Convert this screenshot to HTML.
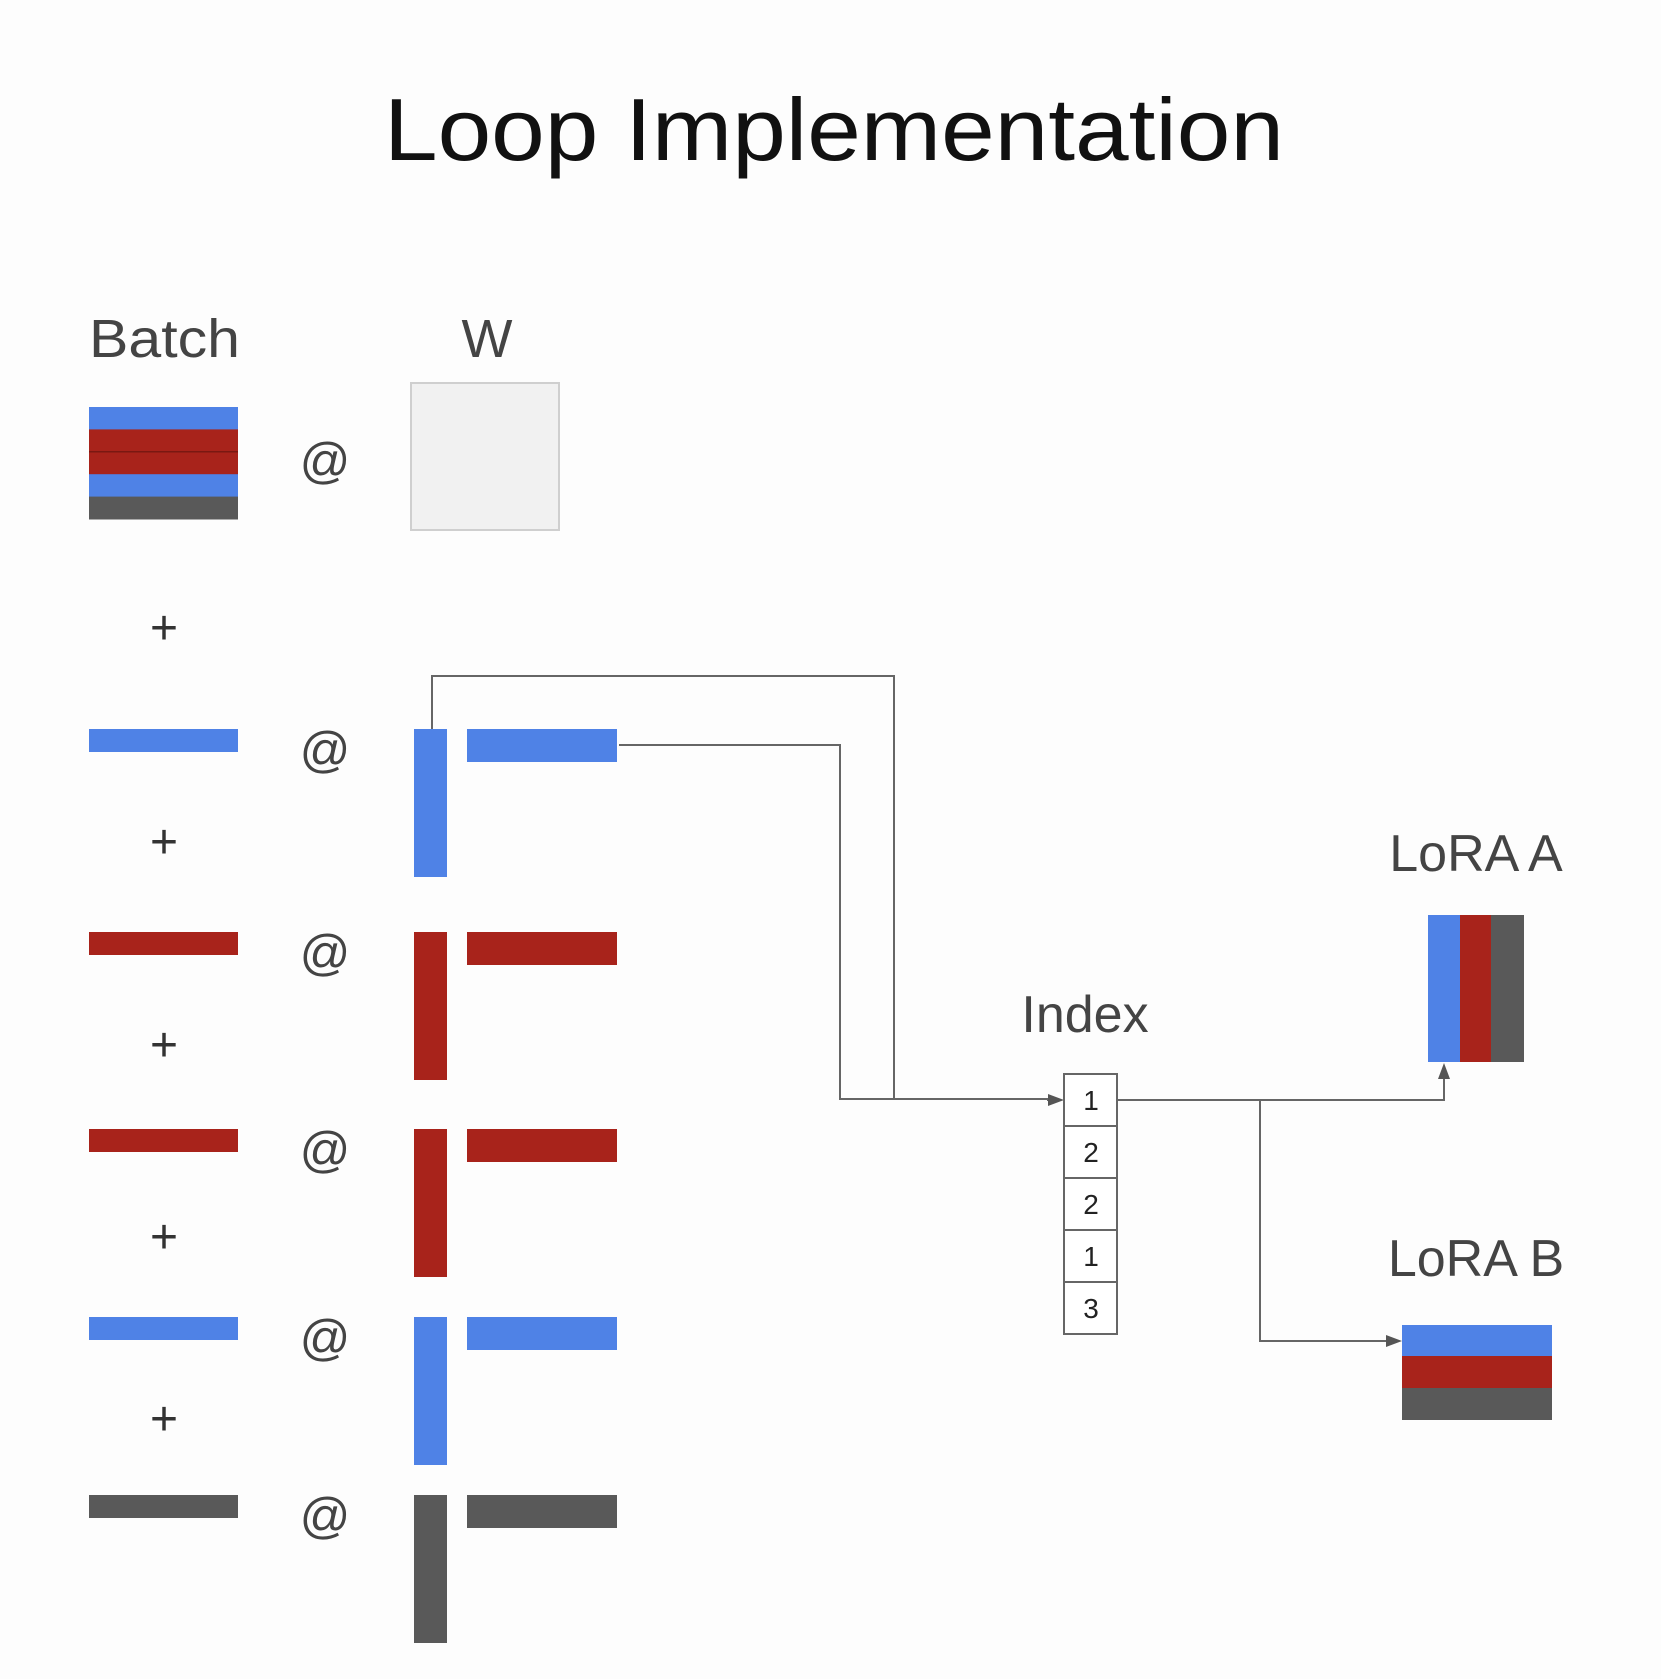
<!DOCTYPE html>
<html><head><meta charset="utf-8"><style>
html,body{margin:0;padding:0;background:#fdfdfd;}
svg{display:block;font-family:"Liberation Sans",sans-serif;}
</style></head><body>
<svg width="1661" height="1679" viewBox="0 0 1661 1679">
<rect x="0" y="0" width="1661" height="1679" fill="#fdfdfd"/>
<text x="834" y="160" text-anchor="middle" font-size="88" fill="#111" textLength="900" lengthAdjust="spacingAndGlyphs">Loop Implementation</text>
<text x="89" y="357" font-size="54" fill="#444" textLength="151" lengthAdjust="spacingAndGlyphs">Batch</text>
<text x="487" y="357" text-anchor="middle" font-size="54" fill="#444">W</text>
<g id="batch"></g>
<rect x="411" y="383" width="148" height="147" fill="#f1f1f1" stroke="#cfcfcf" stroke-width="2"/>
<g id="rows" transform="translate(2,5)"></g>
<g fill="none" stroke="#666" stroke-width="2" transform="translate(4,5)">
<polyline points="428,724 428,671 890,671 890,1094"/>
<polyline points="615,740 836,740 836,1094 1046,1094"/>
</g>
<g transform="translate(7,6)">
<g fill="none" stroke="#666" stroke-width="2">
<polyline points="1040,1094 1046,1094"/>
<polyline points="1110,1094 1437,1094 1437,1070"/>
<polyline points="1253,1094 1253,1335 1380,1335"/>
</g>
<polygon points="1057,1094 1041,1088 1041,1100" fill="#555"/>
<polygon points="1437,1057 1431,1073 1443,1073" fill="#555"/>
<polygon points="1395,1335 1379,1329 1379,1341" fill="#555"/>
<g id="index"></g>
<rect x="1421" y="909" width="32" height="147" fill="#4f82e6"/>
<rect x="1453" y="909" width="31" height="147" fill="#a8231b"/>
<rect x="1484" y="909" width="33" height="147" fill="#595959"/>
<rect x="1395" y="1319" width="150" height="31" fill="#4f82e6"/>
<rect x="1395" y="1350" width="150" height="32" fill="#a8231b"/>
<rect x="1395" y="1382" width="150" height="32" fill="#595959"/>
</g>
<text x="1085" y="1032" text-anchor="middle" font-size="52" fill="#444">Index</text>
<text x="1476" y="871" text-anchor="middle" font-size="52" fill="#444">LoRA A</text>
<text x="1476" y="1276" text-anchor="middle" font-size="52" fill="#444">LoRA B</text>
</svg>
<script>
const indexValues=[1,2,2,1,3];
const adapterColors={1:"#4f82e6",2:"#a8231b",3:"#595959"};
const NS="http://www.w3.org/2000/svg";
function mk(tag,attrs,parent){const e=document.createElementNS(NS,tag);for(const k in attrs)e.setAttribute(k,attrs[k]);parent.appendChild(e);return e;}
const batch=document.getElementById('batch');
const bTop=407,bH=(519-407)/indexValues.length;
indexValues.forEach((v,i)=>{
 const r=mk('rect',{x:89,y:bTop+i*bH,width:149,height:bH+0.5,fill:adapterColors[v]},batch);
 
 
 if(i>0&&indexValues[i-1]===v){
  const l=mk('line',{x1:89,x2:238,y1:bTop+i*bH,y2:bTop+i*bH,stroke:'#7a1812','stroke-width':1.5},batch);
  
  
 }
});
const at0=mk('text',{x:325,y:478,'text-anchor':'middle','font-size':50,fill:'#444'},batch);at0.textContent='@';


const rows=document.getElementById('rows');
const rowTops=[724,927,1124,1312,1490];
const plusYs=[623,837,1040,1232,1414];
plusYs.forEach(y=>{const p=mk('text',{x:162,y:y+16,'text-anchor':'middle','font-size':48,fill:'#333'},rows);p.textContent='+';
 
 });
indexValues.forEach((v,i)=>{
 const y=rowTops[i],c=adapterColors[v];
 const a=mk('rect',{x:87,y:y,width:149,height:23,fill:c},rows);
 
 
 const t=mk('text',{x:323,y:y+38,'text-anchor':'middle','font-size':50,fill:'#444'},rows);t.textContent='@';
 
 
 const vb=mk('rect',{x:412,y:y,width:33,height:148,fill:c},rows);
 
 
 const hb=mk('rect',{x:465,y:y,width:150,height:33,fill:c},rows);
 
 
});
const idx=document.getElementById('index');
const iTop=1068,iH=52;
indexValues.forEach((v,i)=>{
 const r=mk('rect',{x:1057,y:iTop+i*iH,width:53,height:iH,fill:'#fff',stroke:'#666','stroke-width':2},idx);
 
 
 const t=mk('text',{x:1084,y:iTop+i*iH+36,'text-anchor':'middle','font-size':28,fill:'#222'},idx);t.textContent=v;
 
 
});
</script>
</body></html>
